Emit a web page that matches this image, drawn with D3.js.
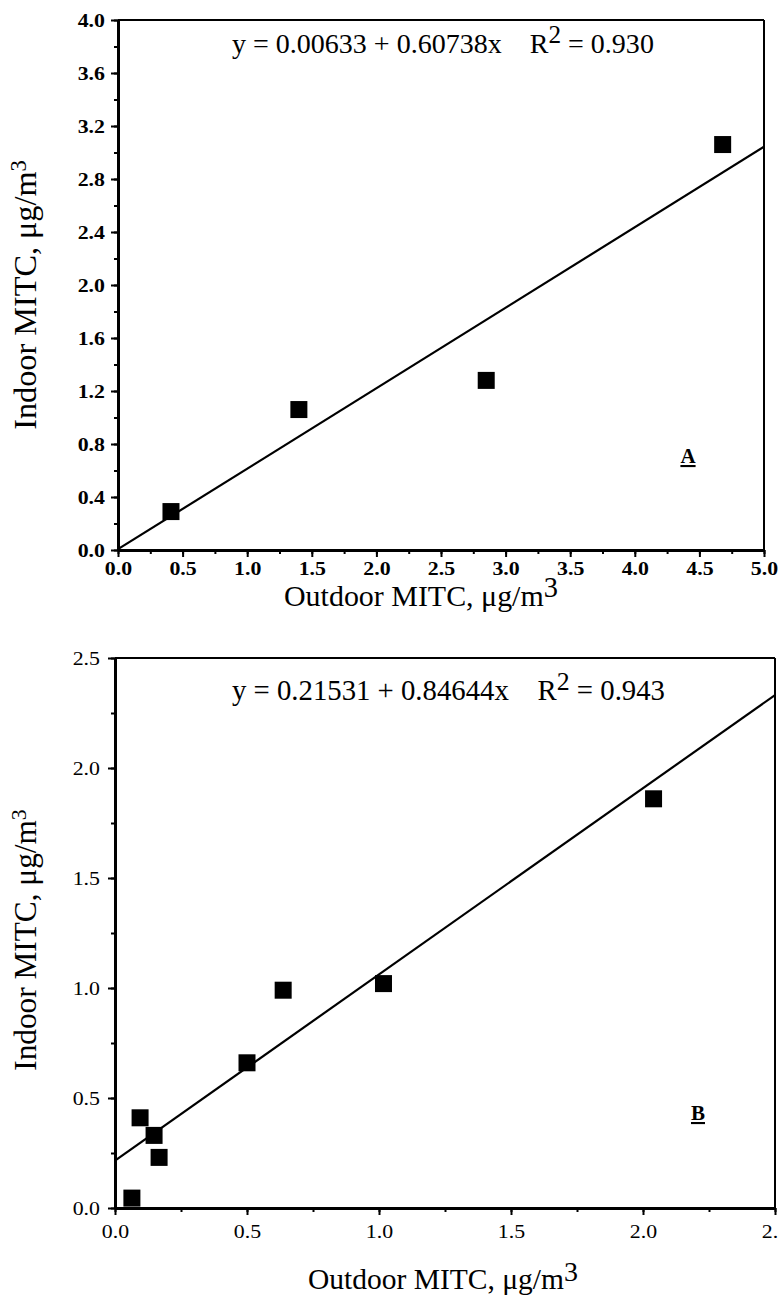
<!DOCTYPE html>
<html>
<head>
<meta charset="utf-8">
<script src="https://cdn.jsdelivr.net/npm/d3@7/dist/d3.min.js"></script>
<style>
  html, body { margin: 0; padding: 0; background: #fff; }
  svg { display: block; }
  text { font-family: "Liberation Serif", "Times New Roman", serif; fill: #000; }
</style>
</head>
<body>
<svg id="chart" width="779" height="1301"></svg>
<script>
// ---- Data ----
const outdoorA = [0.41, 1.40, 2.85, 4.68];
const indoorA  = [0.29, 1.06, 1.28, 3.06];
const fitA = { intercept: 0.00633, slope: 0.60738, r2: "0.930" };
const xTicksA = [0, 0.5, 1, 1.5, 2, 2.5, 3, 3.5, 4, 4.5, 5];
const yTicksA = [0, 0.4, 0.8, 1.2, 1.6, 2.0, 2.4, 2.8, 3.2, 3.6, 4.0];

const outdoorB = [0.064, 0.095, 0.148, 0.167, 0.50, 0.637, 1.017, 2.04];
const indoorB  = [0.045, 0.41, 0.33, 0.23, 0.66, 0.99, 1.02, 1.86];
const fitB = { intercept: 0.21531, slope: 0.84644, r2: "0.943" };
const xTicksB = [0, 0.5, 1, 1.5, 2, 2.5];
const yTicksB = [0, 0.5, 1, 1.5, 2, 2.5];

const svg = d3.select("#chart");

// scale a text element's font size so its rendered (unrotated) width matches a target
function fitWidth(sel, target) {
  const f = parseFloat(sel.attr("font-size"));
  const w = sel.node().getBBox().width;
  sel.attr("font-size", (f * target / w).toFixed(2));
}

function styleTicks(axisG, weight, stretch) {
  axisG.selectAll("text")
    .attr("font-size", 19).attr("font-weight", weight)
    .style("font-family", "'Liberation Serif', serif")
    .each(function () {
      const t = d3.select(this);
      const x0 = +t.attr("x") || 0;
      t.attr("x", x0 / stretch).attr("transform", `scale(${stretch},1)`);
    });
}

function panel(cfg) {
  const g = svg.append("g");
  const x = d3.scaleLinear().domain(cfg.xDomain).range([cfg.left, cfg.right]);
  const y = d3.scaleLinear().domain(cfg.yDomain).range([cfg.bottom, cfg.top]);
  const fmt = d3.format(".1f");

  // frame top/right
  g.append("line").attr("x1", cfg.left).attr("x2", cfg.right).attr("y1", cfg.top).attr("y2", cfg.top)
    .attr("stroke", "#000").attr("stroke-width", 2);
  g.append("line").attr("x1", cfg.right).attr("x2", cfg.right).attr("y1", cfg.top).attr("y2", cfg.bottom)
    .attr("stroke", "#000").attr("stroke-width", 2);

  // minor ticks
  const xMinor = d3.range(cfg.xDomain[0], cfg.xDomain[1] + 1e-9, cfg.xMinorStep);
  const yMinor = d3.range(cfg.yDomain[0], cfg.yDomain[1] + 1e-9, cfg.yMinorStep);
  g.append("g").attr("transform", `translate(0,${cfg.bottom})`)
    .call(d3.axisBottom(x).tickValues(xMinor).tickSize(4).tickFormat(""))
    .call(a => a.select(".domain").remove())
    .selectAll("line").attr("stroke-width", 2);
  g.append("g").attr("transform", `translate(${cfg.left},0)`)
    .call(d3.axisLeft(y).tickValues(yMinor).tickSize(4).tickFormat(""))
    .call(a => a.select(".domain").remove())
    .selectAll("line").attr("stroke-width", 2);

  // major axes
  const xa = g.append("g").attr("transform", `translate(0,${cfg.bottom})`)
    .call(d3.axisBottom(x).tickValues(cfg.xTicks).tickSize(7).tickSizeOuter(0)
      .tickPadding(cfg.xPad).tickFormat(fmt));
  xa.select(".domain").attr("stroke-width", 3);
  xa.selectAll("line").attr("stroke-width", 2);
  styleTicks(xa, cfg.tickWeight, 1.15);

  const ya = g.append("g").attr("transform", `translate(${cfg.left},0)`)
    .call(d3.axisLeft(y).tickValues(cfg.yTicks).tickSize(7).tickSizeOuter(0)
      .tickPadding(cfg.yPad).tickFormat(fmt));
  ya.select(".domain").attr("stroke-width", 3);
  ya.selectAll("line").attr("stroke-width", 2);
  styleTicks(ya, cfg.tickWeight, 1.15);

  // regression line
  const fx = cfg.xDomain;
  g.append("line")
    .attr("x1", x(fx[0])).attr("y1", y(cfg.fit.intercept + cfg.fit.slope * fx[0]))
    .attr("x2", x(fx[1])).attr("y2", y(cfg.fit.intercept + cfg.fit.slope * fx[1]))
    .attr("stroke", "#000").attr("stroke-width", 2.2);

  // points
  const s = 17;
  g.selectAll("rect.pt").data(cfg.xs.map((v, i) => [v, cfg.ys[i]])).join("rect")
    .attr("class", "pt")
    .attr("x", d => x(d[0]) - s / 2).attr("y", d => y(d[1]) - s / 2)
    .attr("width", s).attr("height", s).attr("fill", "#000");

  // equation
  const eq = g.append("text").attr("x", cfg.eqX).attr("y", cfg.eqY).attr("font-size", 24)
    .attr("text-anchor", "start");
  eq.append("tspan").text(`y = ${cfg.fit.intercept} + ${cfg.fit.slope}x\u00A0\u00A0\u00A0\u00A0R`);
  eq.append("tspan").attr("dy", "-0.4em").attr("font-size", "0.9em").text("2");
  eq.append("tspan").attr("dy", "0.36em").text(`\u00A0= ${cfg.fit.r2}`);
  fitWidth(eq, cfg.eqW);

  // panel letter
  g.append("text").attr("x", cfg.letterX).attr("y", cfg.letterY)
    .attr("font-size", 21).attr("font-weight", "bold").attr("text-anchor", "middle")
    .attr("text-decoration", "underline").text(cfg.letter);

  // x title
  const xt = g.append("text").attr("x", cfg.xTitleX).attr("y", cfg.xTitleY)
    .attr("font-size", 24).attr("text-anchor", "start");
  xt.append("tspan").text("Outdoor MITC, \u03BCg/m");
  xt.append("tspan").attr("dy", "-0.3em").attr("font-size", "0.95em").text("3");
  fitWidth(xt, cfg.xTitleW);

  // y title
  const yt = g.append("text")
    .attr("transform", `translate(${cfg.yTitleX},${cfg.yTitleY}) rotate(-90)`)
    .attr("font-size", 22).attr("text-anchor", "middle");
  yt.append("tspan").text("Indoor MITC, \u03BCg/m");
  yt.append("tspan").attr("dy", "-0.45em").attr("font-size", "0.7em").text("3");
  fitWidth(yt, cfg.yTitleH);
}

panel({
  left: 118, right: 764, top: 20, bottom: 550,
  xDomain: [0, 5], yDomain: [0, 4], xMinorStep: 0.25, yMinorStep: 0.2,
  xTicks: xTicksA, yTicks: yTicksA, tickWeight: "bold", xPad: 5, yPad: 6,
  xs: outdoorA, ys: indoorA, fit: fitA,
  eqX: 232, eqY: 53, eqW: 422, letter: "A", letterX: 688, letterY: 463,
  xTitleX: 284, xTitleY: 606, xTitleW: 274,
  yTitleX: 36, yTitleY: 295, yTitleH: 270
});

panel({
  left: 115, right: 775, top: 658, bottom: 1208,
  xDomain: [0, 2.5], yDomain: [0, 2.5], xMinorStep: 0.25, yMinorStep: 0.25,
  xTicks: xTicksB, yTicks: yTicksB, tickWeight: "normal", xPad: 10, yPad: 8,
  xs: outdoorB, ys: indoorB, fit: fitB,
  eqX: 232, eqY: 700, eqW: 433, letter: "B", letterX: 698, letterY: 1120,
  xTitleX: 308, xTitleY: 1289, xTitleW: 270,
  yTitleX: 36, yTitleY: 940, yTitleH: 262
});
</script>
</body>
</html>
